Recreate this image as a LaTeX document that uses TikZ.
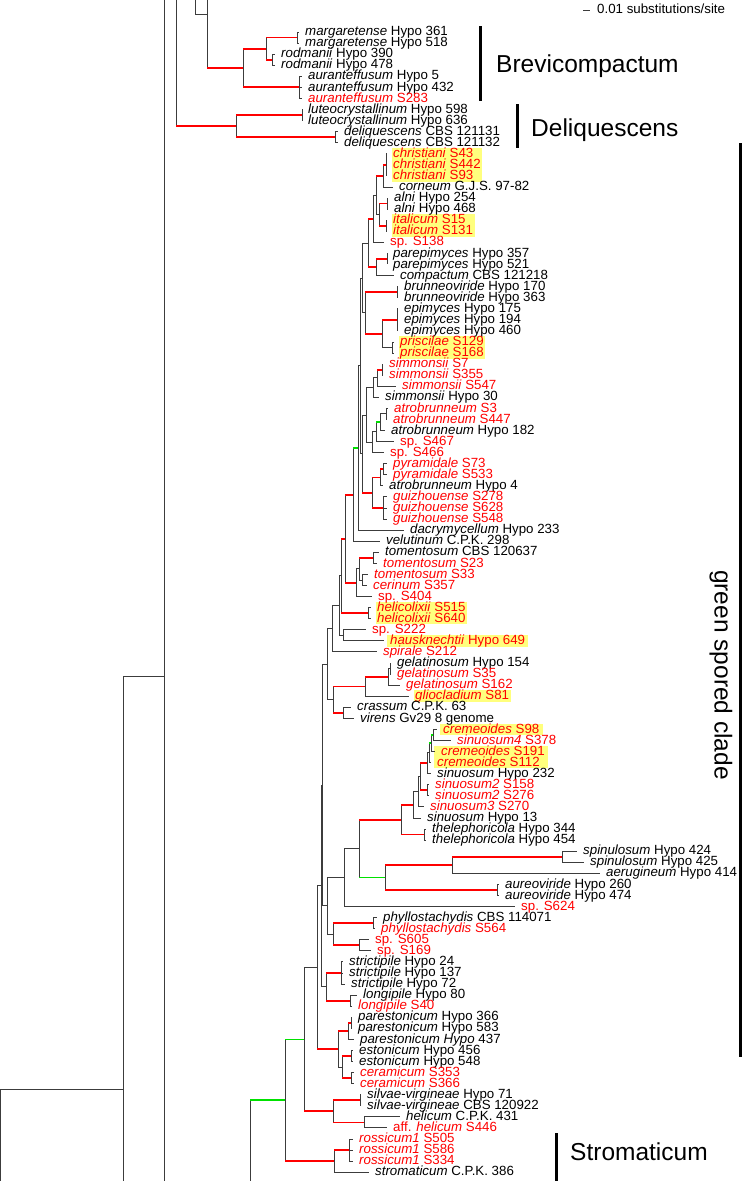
\documentclass[tikz,border=0pt]{standalone}
\usepackage{fontspec}
\setmainfont{Liberation Sans}
\usetikzlibrary{calc,fit,backgrounds}
\definecolor{tred}{RGB}{255,0,0}
\definecolor{tgreen}{RGB}{0,225,0}
\definecolor{tgray}{RGB}{60,60,60}
\definecolor{hl}{RGB}{255,255,125}
\tikzset{
  br/.style={draw=tgray, line width=0.9pt},
  rb/.style={draw=tred, line width=1.8pt},
  gb/.style={draw=tgreen, line width=1.8pt},
  lab/.style={anchor=west, inner sep=0pt, font=\fontsize{13.3}{13.3}\selectfont, text height=9.2pt, text depth=1.87pt},
  big/.style={inner sep=0pt, font=\fontsize{24.5}{24.5}\selectfont},
  cladebar/.style={draw=black, line width=3pt},
  hlbox/.style={fill=hl, draw=none, inner xsep=1.5pt, inner ysep=0pt}
}
\newcommand\mkleaf[5]{%
  \coordinate (#1) at ({(#3-6)*1pt}, {-(32+(#2-1)*11.07)*1pt});
  \node[lab, text=#4] (#1t) at ({#3*1pt}, {-(32+(#2-1)*11.07)*1pt}) {#5};}
\newcommand\mknode[4]{%
  \path let \p1=(#3), \p2=(#4) in coordinate (#1) at (#2pt, {0.5*(\y1+\y2)});}
\newcommand\conn[3][br]{%
  \draw[br] (#2) -- (#2 |- #3);
  \draw[#1] (#2 |- #3) -- (#3);}
\begin{document}
\begin{tikzpicture}
\useasboundingbox (0,0) rectangle (743pt,-1181pt);
% ---------------- leaves
\mkleaf{L1}{1}{305}{black}{\textit{margaretense} Hypo 361}
\mkleaf{L2}{2}{305}{black}{\textit{margaretense} Hypo 518}
\mkleaf{L3}{3}{281}{black}{\textit{rodmanii} Hypo 390}
\mkleaf{L4}{4}{281}{black}{\textit{rodmanii} Hypo 478}
\mkleaf{L5}{5}{308}{black}{\textit{auranteffusum} Hypo 5}
\mkleaf{L6}{6}{308}{black}{\textit{auranteffusum} Hypo 432}
\mkleaf{L7}{7}{308}{tred}{\textit{auranteffusum} S283}
\mkleaf{L8}{8}{308}{black}{\textit{luteocrystallinum} Hypo 598}
\mkleaf{L9}{9}{308}{black}{\textit{luteocrystallinum} Hypo 636}
\mkleaf{L10}{10}{344}{black}{\textit{deliquescens} CBS 121131}
\mkleaf{L11}{11}{344}{black}{\textit{deliquescens} CBS 121132}
\mkleaf{L12}{12}{393}{tred}{\textit{christiani} S43}
\mkleaf{L13}{13}{393}{tred}{\textit{christiani} S442}
\mkleaf{L14}{14}{393}{tred}{\textit{christiani} S93}
\mkleaf{L15}{15}{399}{black}{\textit{corneum} G.J.S. 97-82}
\mkleaf{L16}{16}{394}{black}{\textit{alni} Hypo 254}
\mkleaf{L17}{17}{394}{black}{\textit{alni} Hypo 468}
\mkleaf{L18}{18}{393}{tred}{\textit{italicum} S15}
\mkleaf{L19}{19}{393}{tred}{\textit{italicum} S131}
\mkleaf{L20}{20}{390}{tred}{sp. S138}
\mkleaf{L21}{21}{393}{black}{\textit{parepimyces} Hypo 357}
\mkleaf{L22}{22}{393}{black}{\textit{parepimyces} Hypo 521}
\mkleaf{L23}{23}{400}{black}{\textit{compactum} CBS 121218}
\mkleaf{L24}{24}{404}{black}{\textit{brunneoviride} Hypo 170}
\mkleaf{L25}{25}{404}{black}{\textit{brunneoviride} Hypo 363}
\mkleaf{L26}{26}{404}{black}{\textit{epimyces} Hypo 175}
\mkleaf{L27}{27}{404}{black}{\textit{epimyces} Hypo 194}
\mkleaf{L28}{28}{404}{black}{\textit{epimyces} Hypo 460}
\mkleaf{L29}{29}{400}{tred}{\textit{priscilae} S129}
\mkleaf{L30}{30}{400}{tred}{\textit{priscilae} S168}
\mkleaf{L31}{31}{389}{tred}{\textit{simmonsii} S7}
\mkleaf{L32}{32}{389}{tred}{\textit{simmonsii} S355}
\mkleaf{L33}{33}{402}{tred}{\textit{simmonsii} S547}
\mkleaf{L34}{34}{385}{black}{\textit{simmonsii} Hypo 30}
\mkleaf{L35}{35}{394}{tred}{\textit{atrobrunneum} S3}
\mkleaf{L36}{36}{393}{tred}{\textit{atrobrunneum} S447}
\mkleaf{L37}{37}{391}{black}{\textit{atrobrunneum} Hypo 182}
\mkleaf{L38}{38}{400}{tred}{sp. S467}
\mkleaf{L39}{39}{390}{tred}{sp. S466}
\mkleaf{L40}{40}{393}{tred}{\textit{pyramidale} S73}
\mkleaf{L41}{41}{393}{tred}{\textit{pyramidale} S533}
\mkleaf{L42}{42}{389}{black}{\textit{atrobrunneum} Hypo 4}
\mkleaf{L43}{43}{393}{tred}{\textit{guizhouense} S278}
\mkleaf{L44}{44}{393}{tred}{\textit{guizhouense} S628}
\mkleaf{L45}{45}{393}{tred}{\textit{guizhouense} S548}
\mkleaf{L46}{46}{410}{black}{\textit{dacrymycellum} Hypo 233}
\mkleaf{L47}{47}{386}{black}{\textit{velutinum} C.P.K. 298}
\mkleaf{L48}{48}{385}{black}{\textit{tomentosum} CBS 120637}
\mkleaf{L49}{49}{383}{tred}{\textit{tomentosum} S23}
\mkleaf{L50}{50}{374}{tred}{\textit{tomentosum} S33}
\mkleaf{L51}{51}{373}{tred}{\textit{cerinum} S357}
\mkleaf{L52}{52}{378}{tred}{sp. S404}
\mkleaf{L53}{53}{377}{tred}{\textit{helicolixii} S515}
\mkleaf{L54}{54}{377}{tred}{\textit{helicolixii} S640}
\mkleaf{L55}{55}{372}{tred}{sp. S222}
\mkleaf{L56}{56}{390}{tred}{\textit{hausknechtii} Hypo 649}
\mkleaf{L57}{57}{383}{tred}{\textit{spirale} S212}
\mkleaf{L58}{58}{397}{black}{\textit{gelatinosum} Hypo 154}
\mkleaf{L59}{59}{397}{tred}{\textit{gelatinosum} S35}
\mkleaf{L60}{60}{406}{tred}{\textit{gelatinosum} S162}
\mkleaf{L61}{61}{415}{tred}{\textit{gliocladium} S81}
\mkleaf{L62}{62}{357}{black}{\textit{crassum} C.P.K. 63}
\mkleaf{L63}{63}{360}{black}{\textit{virens} Gv29 8 genome}
\mkleaf{L64}{64}{443}{tred}{\textit{cremeoides} S98}
\mkleaf{L65}{65}{457}{tred}{\textit{sinuosum4} S378}
\mkleaf{L66}{66}{441}{tred}{\textit{cremeoides} S191}
\mkleaf{L67}{67}{437}{tred}{\textit{cremeoides} S112}
\mkleaf{L68}{68}{437}{black}{\textit{sinuosum} Hypo 232}
\mkleaf{L69}{69}{435}{tred}{\textit{sinuosum2} S158}
\mkleaf{L70}{70}{435}{tred}{\textit{sinuosum2} S276}
\mkleaf{L71}{71}{430}{tred}{\textit{sinuosum3} S270}
\mkleaf{L72}{72}{427}{black}{\textit{sinuosum} Hypo 13}
\mkleaf{L73}{73}{432}{black}{\textit{thelephoricola} Hypo 344}
\mkleaf{L74}{74}{432}{black}{\textit{thelephoricola} Hypo 454}
\mkleaf{L75}{75}{583}{black}{\textit{spinulosum} Hypo 424}
\mkleaf{L76}{76}{590}{black}{\textit{spinulosum} Hypo 425}
\mkleaf{L77}{77}{606}{black}{\textit{aerugineum} Hypo 414}
\mkleaf{L78}{78}{505}{black}{\textit{aureoviride} Hypo 260}
\mkleaf{L79}{79}{505}{black}{\textit{aureoviride} Hypo 474}
\mkleaf{L80}{80}{521}{tred}{sp. S624}
\mkleaf{L81}{81}{383}{black}{\textit{phyllostachydis} CBS 114071}
\mkleaf{L82}{82}{381}{tred}{\textit{phyllostachydis} S564}
\mkleaf{L83}{83}{375}{tred}{sp. S605}
\mkleaf{L84}{84}{377}{tred}{sp. S169}
\mkleaf{L85}{85}{349}{black}{\textit{strictipile} Hypo 24}
\mkleaf{L86}{86}{349}{black}{\textit{strictipile} Hypo 137}
\mkleaf{L87}{87}{351}{black}{\textit{strictipile} Hypo 72}
\mkleaf{L88}{88}{363}{black}{\textit{longipile} Hypo 80}
\mkleaf{L89}{89}{358}{tred}{\textit{longipile} S40}
\mkleaf{L90}{90}{358}{black}{\textit{parestonicum} Hypo 366}
\mkleaf{L91}{91}{358}{black}{\textit{parestonicum} Hypo 583}
\mkleaf{L92}{92}{360}{black}{\textit{parestonicum Hypo} 437}
\mkleaf{L93}{93}{359}{black}{\textit{estonicum} Hypo 456}
\mkleaf{L94}{94}{359}{black}{\textit{estonicum} Hypo 548}
\mkleaf{L95}{95}{360}{tred}{\textit{ceramicum} S353}
\mkleaf{L96}{96}{360}{tred}{\textit{ceramicum} S366}
\mkleaf{L97}{97}{367}{black}{\textit{silvae-virgineae} Hypo 71}
\mkleaf{L98}{98}{367}{black}{\textit{silvae-virgineae} CBS 120922}
\mkleaf{L99}{99}{406}{black}{\textit{helicum} C.P.K. 431}
\mkleaf{L100}{100}{393}{tred}{aff. \textit{helicum} S446}
\mkleaf{L101}{101}{359}{tred}{\textit{rossicum1} S505}
\mkleaf{L102}{102}{359}{tred}{\textit{rossicum1} S586}
\mkleaf{L103}{103}{359}{tred}{\textit{rossicum1} S334}
\mkleaf{L104}{104}{375}{black}{\textit{stromaticum} C.P.K. 386}
% ---------------- background: highlights
\begin{scope}[on background layer]
\fill[white] (0,0) rectangle (743pt,-1181pt);
\node[hlbox, fit=(L12t)(L13t)(L14t)] (H1) {};
\node[hlbox, fit=(L18t)(L19t)] (H2) {};
\node[hlbox, fit=(L29t)(L30t)] (H3) {};
\node[hlbox, fit=(L53t)(L54t)] (H4) {};
\node[hlbox, fit=(L56t), inner xsep=3pt] (H5) {};
\node[hlbox, fit=(L61t)] (H6) {};
\node[hlbox, fit=(L64t), inner xsep=3pt] (H7) {};
\node[hlbox, fit=(L66t)(L67t), inner xsep=3pt] (H8) {};
\end{scope}
% ---------------- internal nodes
\mknode{Nmarg}{297}{L1}{L2}
\mknode{Nrod}{272}{L3}{L4}
\mknode{Nmr}{266}{Nmarg}{Nrod}
\mknode{Naur}{299}{L5}{L7}
\mknode{Nbrev}{243}{Nmr}{Naur}
\mknode{Nlut}{302}{L8}{L9}
\mknode{Ndel}{335}{L10}{L11}
\mknode{Ndq}{236}{Nlut}{Ndel}
\mknode{Nchr}{386}{L12}{L14}
\mknode{Ncc}{383}{Nchr}{L15}
\mknode{Nalni}{387}{L16}{L17}
\mknode{Nital}{386}{L18}{L19}
\mknode{Nai}{379}{Nalni}{Nital}
\mknode{Nca}{376}{Ncc}{Nai}
\mknode{Ncs}{373}{Nca}{L20}
\mknode{Nparep}{387}{L21}{L22}
\mknode{Npc}{376}{Nparep}{L23}
\mknode{Nt1}{368}{Ncs}{Npc}
\mknode{Nbrun}{397}{L24}{L25}
\mknode{Nepi}{397}{L26}{L28}
\mknode{Npris}{392}{L29}{L30}
\mknode{Nep}{382}{Nepi}{Npris}
\mknode{Nbe}{365}{Nbrun}{Nep}
\mknode{NT}{362}{Nt1}{Nbe}
\mknode{Nsim2}{382}{L31}{L32}
\mknode{Nsim3}{377}{Nsim2}{L33}
\mknode{Nsim4}{373}{Nsim3}{L34}
\mknode{Natr2}{386}{L35}{L36}
\mknode{Natr3}{380}{Natr2}{L37}
\mknode{Natr4}{376}{Natr3}{L38}
\mknode{Natr5}{372}{Natr4}{L39}
\mknode{Nsa}{366}{Nsim4}{Natr5}
\mknode{Npyr}{383}{L40}{L41}
\mknode{Npa}{380}{Npyr}{L42}
\mknode{Ngui}{383}{L43}{L45}
\mknode{Npg}{372}{Npa}{Ngui}
\mknode{Nsp}{362}{Nsa}{Npg}
\mknode{NU}{360}{NT}{Nsp}
\mknode{Nd}{358}{NU}{L46}
\mknode{Nv}{353}{Nd}{L47}
\mknode{Ntom}{373}{L48}{L49}
\mknode{Ntc}{362}{L50}{L51}
\mknode{Nt3}{359}{Ntom}{Ntc}
\mknode{Nt4}{356}{Nt3}{L52}
\mknode{Nvt}{345}{Nv}{Nt4}
\mknode{Nhel}{368}{L53}{L54}
\mknode{Nh}{341}{Nvt}{Nhel}
\mknode{Nsh}{343}{L55}{L56}
\mknode{Nhb}{339}{Nh}{Nsh}
\mknode{Ns}{332}{Nhb}{L57}
\mknode{Ngela}{390}{L58}{L59}
\mknode{Ngelb}{388}{Ngela}{L60}
\mknode{Ngg}{365}{Ngelb}{L61}
\mknode{Ncv}{343}{L62}{L63}
\mknode{Ngc}{333}{Ngg}{Ncv}
\mknode{Ng}{327}{Ns}{Ngc}
\mknode{Nca1}{433}{L64}{L65}
\mknode{Nca2}{431}{Nca1}{L66}
\mknode{Nca3}{429}{Nca2}{L67}
\mknode{Nca4}{427}{Nca3}{L68}
\mknode{Nsn2}{427}{L69}{L70}
\mknode{Nca5}{420}{Nca4}{Nsn2}
\mknode{Nca6}{418}{Nca5}{L71}
\mknode{NsinA}{413}{Nca6}{L72}
\mknode{Nthel}{424}{L73}{L74}
\mknode{Nst}{401}{NsinA}{Nthel}
\mknode{Nspa}{562}{L75}{L76}
\mknode{Nspb}{452}{Nspa}{L77}
\mknode{Naurb}{497}{L78}{L79}
\mknode{Nsab}{385}{Nspb}{Naurb}
\mknode{Nx}{359}{Nst}{Nsab}
\mknode{Ny}{344}{Nx}{L80}
\mknode{Nph}{373}{L81}{L82}
\mknode{Nsp6}{359}{L83}{L84}
\mknode{Nphs}{333}{Nph}{Nsp6}
\mknode{Nz}{327}{Ny}{Nphs}
\mknode{Na}{322}{Ng}{Nz}
\mknode{Nstric}{341}{L85}{L87}
\mknode{Nlong}{350}{L88}{L89}
\mknode{Nsl}{326}{Nstric}{Nlong}
\mknode{Nb}{321}{Na}{Nsl}
\mknode{Npara}{351}{L90}{L91}
\mknode{Nparb}{348}{Npara}{L92}
\mknode{Nest}{351}{L93}{L94}
\mknode{Ncer}{351}{L95}{L96}
\mknode{Nec}{342}{Nest}{Ncer}
\mknode{Npe}{338}{Nparb}{Nec}
\mknode{Nthr}{317}{Nb}{Npe}
\mknode{Nsilv}{360}{L97}{L98}
\mknode{Nhh}{364}{L99}{L100}
\mknode{Nhh2}{333}{Nsilv}{Nhh}
\mknode{Nthz}{304}{Nthr}{Nhh2}
\mknode{Nros}{349}{L101}{L103}
\mknode{Nrs}{334}{Nros}{L104}
\mknode{Ntfe}{285}{Nthz}{Nrs}
\path let \p1=(Ntfe) in coordinate (Ntwf) at (250pt,\y1);
% ---------------- backbone outside view
\coordinate (T164) at (164pt,0pt);
\coordinate (B164) at (164pt,-1181pt);
\coordinate (T176) at (176pt,0pt);
\coordinate (T195) at (195pt,0pt);
\coordinate (N195) at (195pt,-14pt);
\coordinate (T207) at (207pt,0pt);
\coordinate (N207) at (207pt,-14pt);
\coordinate (N123) at (123pt,-676pt);
\coordinate (N0) at (0.5pt,-1089pt);
\draw[br] (T164) -- (B164);
\draw[br] (N123) -- (N123 |- B164);
\draw[br] (N123) -- (N123 -| T164);
\draw[br] (N0) -- (N0 |- B164);
\draw[br] (N0) -- (N0 -| N123);
\draw[br] (T195) -- (N195) -- (N207);
\draw[br] (T207) -- (N207);
\draw[br] (Ntwf) -- (Ntwf |- B164);
% ---------------- connectors
\conn[rb]{N207}{Nbrev}
\conn[rb]{Nbrev}{Nmr}\conn[rb]{Nbrev}{Naur}
\conn[rb]{Nmr}{Nmarg}\conn[rb]{Nmr}{Nrod}
\conn{Nmarg}{L1}\conn{Nmarg}{L2}\conn{Nrod}{L3}\conn{Nrod}{L4}
\conn{Naur}{L5}\conn{Naur}{L6}\conn{Naur}{L7}
\conn[rb]{T176}{Ndq}
\conn[rb]{Ndq}{Nlut}\conn[rb]{Ndq}{Ndel}
\conn{Nlut}{L8}\conn{Nlut}{L9}\conn{Ndel}{L10}\conn{Ndel}{L11}
\conn{Nchr}{L12}\conn{Nchr}{L13}\conn{Nchr}{L14}
\conn[rb]{Ncc}{Nchr}\conn{Ncc}{L15}
\conn{Nalni}{L16}\conn{Nalni}{L17}\conn{Nital}{L18}\conn{Nital}{L19}
\conn[rb]{Nai}{Nalni}\conn[rb]{Nai}{Nital}
\conn[rb]{Nca}{Ncc}\conn{Nca}{Nai}
\conn{Ncs}{Nca}\conn{Ncs}{L20}
\conn{Nparep}{L21}\conn{Nparep}{L22}
\conn[rb]{Npc}{Nparep}\conn{Npc}{L23}
\conn[rb]{Nt1}{Ncs}\conn[rb]{Nt1}{Npc}
\conn{Nbrun}{L24}\conn{Nbrun}{L25}
\conn{Nepi}{L26}\conn{Nepi}{L27}\conn{Nepi}{L28}
\conn{Npris}{L29}\conn{Npris}{L30}
\conn[rb]{Nep}{Nepi}\conn{Nep}{Npris}
\conn[rb]{Nbe}{Nbrun}\conn[rb]{Nbe}{Nep}
\conn{NT}{Nt1}\conn{NT}{Nbe}
\conn{Nsim2}{L31}\conn{Nsim2}{L32}
\conn[rb]{Nsim3}{Nsim2}\conn{Nsim3}{L33}
\conn{Nsim4}{Nsim3}\conn{Nsim4}{L34}
\conn{Natr2}{L35}\conn{Natr2}{L36}
\conn{Natr3}{Natr2}\conn{Natr3}{L37}
\conn[gb]{Natr4}{Natr3}\conn{Natr4}{L38}
\conn{Natr5}{Natr4}\conn{Natr5}{L39}
\conn{Nsa}{Nsim4}\conn{Nsa}{Natr5}
\conn{Npyr}{L40}\conn{Npyr}{L41}
\conn[rb]{Npa}{Npyr}\conn{Npa}{L42}
\conn{Ngui}{L43}\conn{Ngui}{L44}\conn{Ngui}{L45}
\conn[rb]{Npg}{Npa}\conn[rb]{Npg}{Ngui}
\conn{Nsp}{Nsa}\conn[rb]{Nsp}{Npg}
\conn{NU}{NT}\conn{NU}{Nsp}
\conn{Nd}{NU}\conn{Nd}{L46}
\conn[gb]{Nv}{Nd}\conn{Nv}{L47}
\conn{Ntom}{L48}\conn{Ntom}{L49}
\conn{Ntc}{L50}\conn{Ntc}{L51}
\conn[rb]{Nt3}{Ntom}\conn{Nt3}{Ntc}
\conn{Nt4}{Nt3}\conn{Nt4}{L52}
\conn[rb]{Nvt}{Nv}\conn[rb]{Nvt}{Nt4}
\conn{Nhel}{L53}\conn{Nhel}{L54}
\conn[rb]{Nh}{Nvt}\conn[rb]{Nh}{Nhel}
\conn{Nsh}{L55}\conn{Nsh}{L56}
\conn{Nhb}{Nh}\conn{Nhb}{Nsh}
\conn{Ns}{Nhb}\conn{Ns}{L57}
\conn{Ngela}{L58}\conn{Ngela}{L59}
\conn{Ngelb}{Ngela}\conn{Ngelb}{L60}
\conn[rb]{Ngg}{Ngelb}\conn{Ngg}{L61}
\conn{Ncv}{L62}\conn{Ncv}{L63}
\conn[rb]{Ngc}{Ngg}\conn[rb]{Ngc}{Ncv}
\conn{Ng}{Ns}\conn{Ng}{Ngc}
\conn{Nca1}{L64}\conn{Nca1}{L65}
\conn[gb]{Nca2}{Nca1}\conn{Nca2}{L66}
\conn[gb]{Nca3}{Nca2}\conn{Nca3}{L67}
\conn{Nca4}{Nca3}\conn{Nca4}{L68}
\conn{Nsn2}{L69}\conn{Nsn2}{L70}
\conn[rb]{Nca5}{Nca4}\conn[rb]{Nca5}{Nsn2}
\conn{Nca6}{Nca5}\conn{Nca6}{L71}
\conn{NsinA}{Nca6}\conn{NsinA}{L72}
\conn{Nthel}{L73}\conn{Nthel}{L74}
\conn[rb]{Nst}{NsinA}\conn[rb]{Nst}{Nthel}
\conn{Nspa}{L75}\conn{Nspa}{L76}
\conn[rb]{Nspb}{Nspa}\conn{Nspb}{L77}
\conn{Naurb}{L78}\conn{Naurb}{L79}
\conn[rb]{Nsab}{Nspb}\conn[rb]{Nsab}{Naurb}
\conn[rb]{Nx}{Nst}\conn[gb]{Nx}{Nsab}
\conn{Ny}{Nx}\conn{Ny}{L80}
\conn{Nph}{L81}\conn{Nph}{L82}
\conn{Nsp6}{L83}\conn{Nsp6}{L84}
\conn[rb]{Nphs}{Nph}\conn[rb]{Nphs}{Nsp6}
\conn{Nz}{Ny}\conn{Nz}{Nphs}
\conn{Na}{Ng}\conn{Na}{Nz}
\conn{Nstric}{L85}\conn{Nstric}{L86}\conn{Nstric}{L87}
\conn{Nlong}{L88}\conn{Nlong}{L89}
\conn[rb]{Nsl}{Nstric}\conn[rb]{Nsl}{Nlong}
\conn{Nb}{Na}\conn{Nb}{Nsl}
\conn{Npara}{L90}\conn{Npara}{L91}
\conn[rb]{Nparb}{Npara}\conn{Nparb}{L92}
\conn{Nest}{L93}\conn{Nest}{L94}
\conn{Ncer}{L95}\conn{Ncer}{L96}
\conn[rb]{Nec}{Nest}\conn[rb]{Nec}{Ncer}
\conn[rb]{Npe}{Nparb}\conn{Npe}{Nec}
\conn{Nthr}{Nb}\conn[rb]{Nthr}{Npe}
\conn{Nsilv}{L97}\conn{Nsilv}{L98}
\conn{Nhh}{L99}\conn{Nhh}{L100}
\conn[rb]{Nhh2}{Nsilv}\conn[rb]{Nhh2}{Nhh}
\conn{Nthz}{Nthr}\conn[rb]{Nthz}{Nhh2}
\conn{Nros}{L101}\conn{Nros}{L102}\conn{Nros}{L103}
\conn[rb]{Nrs}{Nros}\conn{Nrs}{L104}
\conn[gb]{Ntfe}{Nthz}\conn[rb]{Ntfe}{Nrs}
\conn[gb]{Ntwf}{Ntfe}
% ---------------- clade bars and labels
\coordinate (BA1) at (480pt,-26pt); \coordinate (BA2) at (480pt,-101pt);
\coordinate (BB1) at (517pt,-104pt); \coordinate (BB2) at (517pt,-148pt);
\coordinate (BC1) at (740pt,-143pt); \coordinate (BC2) at (740pt,-1057pt);
\coordinate (BD1) at (556pt,-1133pt); \coordinate (BD2) at (556pt,-1181pt);
\draw[cladebar] (BA1) -- (BA2);
\draw[cladebar] (BB1) -- (BB2);
\draw[cladebar] (BC1) -- (BC2);
\draw[cladebar] (BD1) -- (BD2);
\node[big, anchor=west] (CLa) at (496pt,-66pt) {Brevicompactum};
\node[big, anchor=west] (CLb) at (531pt,-130pt) {Deliquescens};
\node[big, anchor=west] (CLd) at (570pt,-1152pt) {Stromaticum};
\node[big, rotate=-90] (CLc) at (721pt,-675pt) {green spored clade};
% ---------------- scale bar
\coordinate (SB1) at (583pt,-10pt); \coordinate (SB2) at (590pt,-10pt);
\draw[br] (SB1) -- (SB2);
\node[lab] (SBt) at (597pt,-10pt) {0.01 substitutions/site};
\end{tikzpicture}
\end{document}
